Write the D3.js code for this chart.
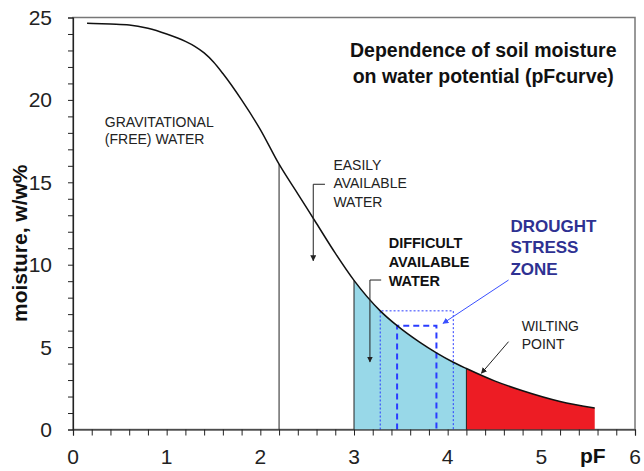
<!DOCTYPE html>
<html>
<head>
<meta charset="utf-8">
<script src="https://cdn.jsdelivr.net/npm/d3@7"></script>
<style>
  body { margin: 0; background: #fff; }
  svg { font-family: Arial, "Liberation Sans", sans-serif; }
</style>
</head>
<body>
<div id="chart"></div>
<script>
// pF curve
const pF = [0.15, 0.4, 0.6, 0.8, 1.0, 1.2, 1.3, 1.4, 1.5, 1.6, 1.8, 2.0, 2.2, 2.4, 2.6, 2.8, 3.0, 3.28, 3.46, 3.7, 3.88, 4.06, 4.2, 4.5, 4.8, 5.2, 5.57];
const moisture = [24.65, 24.6, 24.55, 24.35, 24.0, 23.55, 23.25, 22.85, 22.3, 21.6, 20.0, 18.2, 16.1, 14.3, 12.5, 10.7, 9.05, 7.2, 6.3, 5.3, 4.65, 4.08, 3.7, 2.95, 2.35, 1.7, 1.3];

const xTicks = [0, 1, 2, 3, 4, 5, 6];
const yTicks = [0, 5, 10, 15, 20, 25];

// zones (pF)
const fieldCapacity = 2.2;
const difficultFrom = 3.0;
const wiltingPoint = 4.2;
const droughtOuter = [3.28, 4.06];
const droughtInner = [3.46, 3.88];

const width = 644;
const height = 471;
const margin = { top: 17.5, right: 9, bottom: 41.5, left: 73 };

const data = pF.map((p, i) => ({ p: p, m: moisture[i] }));

const x = d3.scaleLinear().domain([0, 6]).range([margin.left, width - margin.right]);
const y = d3.scaleLinear().domain([0, 25]).range([height - margin.bottom, margin.top]);

const svg = d3.select("#chart").append("svg")
  .attr("width", width)
  .attr("height", height);

const defs = svg.append("defs");
function marker(id, color) {
  defs.append("marker")
    .attr("id", id)
    .attr("viewBox", "0 0 10 10")
    .attr("refX", 9).attr("refY", 5)
    .attr("markerWidth", 6).attr("markerHeight", 6)
    .attr("markerUnits", "userSpaceOnUse")
    .attr("orient", "auto")
    .append("path")
    .attr("d", "M0,0L10,5L0,10z")
    .attr("fill", color);
}
marker("arrowBlack", "#222");
marker("arrowBlue", "#3a50ff");

// frame
svg.append("rect")
  .attr("x", x(0)).attr("y", y(25))
  .attr("width", x(6) - x(0)).attr("height", y(0) - y(25))
  .attr("fill", "none").attr("stroke", "#777").attr("stroke-width", 1.5);

const curve = d3.curveMonotoneX;

const area = d3.area()
  .x(d => x(d.p))
  .y0(y(0))
  .y1(d => y(d.m))
  .curve(curve);

// difficult available water (blue) and wilting zone (red)
svg.append("path")
  .datum(data.filter(d => d.p >= difficultFrom && d.p <= wiltingPoint))
  .attr("d", area)
  .attr("fill", "#98d8e8");

svg.append("path")
  .datum(data.filter(d => d.p >= wiltingPoint))
  .attr("d", area)
  .attr("fill", "#ed1c24");

function valueAt(p) {
  return moisture[pF.indexOf(p)];
}

// vertical dividers
[fieldCapacity, difficultFrom, wiltingPoint].forEach(p => {
  svg.append("line")
    .attr("x1", x(p)).attr("x2", x(p))
    .attr("y1", y(0)).attr("y2", y(valueAt(p)))
    .attr("stroke", "#222").attr("stroke-width", 1);
});

// drought stress zone boxes
svg.append("path")
  .attr("d", `M${x(droughtOuter[0])},${y(0)}V${y(valueAt(droughtOuter[0]))}H${x(droughtOuter[1])}V${y(0)}`)
  .attr("fill", "none").attr("stroke", "#2a3cff").attr("stroke-width", 1)
  .attr("stroke-dasharray", "2,2");
svg.append("path")
  .attr("d", `M${x(droughtInner[0])},${y(0)}V${y(valueAt(droughtInner[0]))}H${x(droughtInner[1])}V${y(0)}`)
  .attr("fill", "none").attr("stroke", "#2a3cff").attr("stroke-width", 2)
  .attr("stroke-dasharray", "6,4");

// the curve
svg.append("path")
  .datum(data)
  .attr("d", d3.line().x(d => x(d.p)).y(d => y(d.m)).curve(curve))
  .attr("fill", "none")
  .attr("stroke", "#111")
  .attr("stroke-width", 1.5);

// axes
const xAxis = svg.append("g")
  .attr("transform", `translate(0,${y(0)})`)
  .call(d3.axisBottom(x).tickValues(d3.range(0, 6.01, 0.2)).tickSize(6).tickFormat(""));
xAxis.append("g").selectAll("text")
  .data(xTicks)
  .join("text")
  .attr("x", d => x(d))
  .attr("y", 34)
  .attr("text-anchor", "middle")
  .attr("fill", "#222")
  .style("font-size", "21px")
  .text(d => d);

const yAxis = svg.append("g")
  .attr("transform", `translate(${x(0)},0)`)
  .call(d3.axisLeft(y).tickValues(d3.range(0, 26, 1)).tickSize(5).tickFormat(""));
yAxis.append("g").selectAll("text")
  .data(yTicks)
  .join("text")
  .attr("x", -21)
  .attr("y", d => y(d) + 7.5)
  .attr("text-anchor", "end")
  .attr("fill", "#222")
  .style("font-size", "21px")
  .text(d => d);

[xAxis, yAxis].forEach(a => {
  a.select(".domain").attr("stroke", "#222").attr("stroke-width", 1.2);
  a.selectAll(".tick line").attr("stroke", "#222");
});

// axis titles
svg.append("text")
  .attr("transform", `translate(27,${y(11.3)}) rotate(-90)`)
  .attr("text-anchor", "middle")
  .style("font-size", "21px")
  .style("font-weight", "bold")
  .attr("fill", "#111")
  .text("moisture, w/w%");

svg.append("text")
  .attr("x", x(5.55))
  .attr("y", y(0) + 33)
  .attr("text-anchor", "middle")
  .style("font-size", "21px")
  .style("font-weight", "bold")
  .attr("fill", "#111")
  .text("pF");

// title
svg.append("text")
  .attr("x", x(4.38))
  .attr("y", y(22.62))
  .attr("text-anchor", "middle")
  .style("font-size", "19.5px")
  .style("font-weight", "bold")
  .attr("fill", "#111")
  .selectAll("tspan")
  .data(["Dependence of soil moisture", "on water potential (pFcurve)"])
  .join("tspan")
  .attr("x", x(4.38))
  .attr("dy", (d, i) => (i ? 26.6 : 0))
  .text(d => d);

// annotations
function label(lines, p, m, opts) {
  svg.append("text")
    .attr("x", x(p)).attr("y", y(m))
    .style("font-size", opts.size + "px")
    .style("font-weight", opts.bold ? "bold" : "normal")
    .attr("fill", opts.color)
    .selectAll("tspan")
    .data(lines)
    .join("tspan")
    .attr("x", x(p))
    .attr("dy", (d, i) => (i ? opts.lh : 0))
    .text(d => d);
}

label(["GRAVITATIONAL", "(FREE) WATER"], 0.34, 18.34, { size: 14, lh: 17, color: "#222" });
label(["EASILY", "AVAILABLE", "WATER"], 2.78, 15.75, { size: 14, lh: 18.3, color: "#222" });
label(["DIFFICULT", "AVAILABLE", "WATER"], 3.37, 11.0, { size: 14.5, lh: 18.7, color: "#111", bold: true });
label(["DROUGHT", "STRESS", "ZONE"], 4.67, 12.0, { size: 17, lh: 21.7, color: "#2e3192", bold: true });
label(["WILTING", "POINT"], 4.79, 6.0, { size: 14, lh: 18.6, color: "#222" });

function pointer(pts, color, id) {
  svg.append("path")
    .attr("d", d3.line()(pts.map(d => [x(d[0]), y(d[1])])))
    .attr("fill", "none")
    .attr("stroke", color)
    .attr("stroke-width", 1)
    .attr("marker-end", `url(#${id})`);
}

pointer([[2.69, 14.88], [2.565, 14.88], [2.565, 10.24]], "#222", "arrowBlack");
pointer([[3.29, 9.07], [3.17, 9.07], [3.17, 4.1]], "#222", "arrowBlack");
pointer([[4.65, 9.07], [3.95, 6.44]], "#3a50ff", "arrowBlue");
pointer([[4.65, 5.33], [4.36, 3.41]], "#222", "arrowBlack");
</script>
</body>
</html>
